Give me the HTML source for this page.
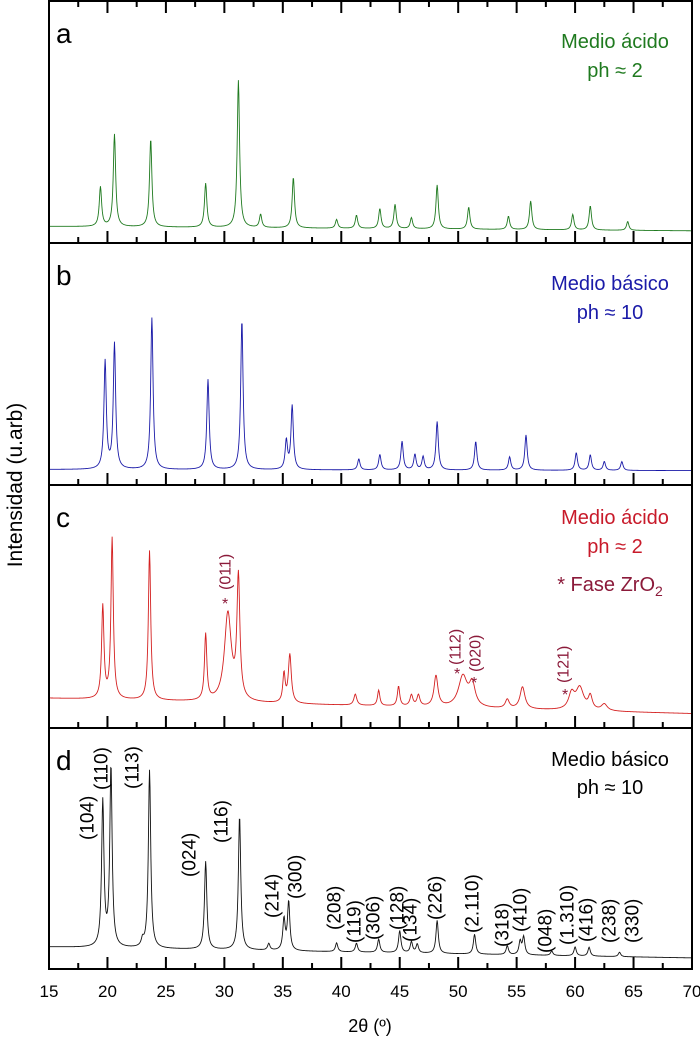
<!DOCTYPE html>
<html><head><meta charset="utf-8"><style>
body{margin:0;background:#fff;}
svg{display:block;font-family:"Liberation Sans",sans-serif;}
</style></head><body>
<svg id="chart" width="700" height="1041" viewBox="0 0 700 1041"></svg>
<script>
// ---- data ----
const panelNames = ['a','b','c','d'];
const baseA = [3, 1];
const posA = [19.4,20.6,23.7,28.4,31.2,33.1,35.9,39.6,41.3,43.3,44.6,46.0,48.2,50.9,54.3,56.2,59.8,61.3,64.5];
const ampA = [18,42,40,20,67,6,23,4,6,9,11,5,20,10,6,13,7,11,4];
const posB = [19.8,20.6,23.8,28.6,31.5,35.3,35.8,41.5,43.3,45.2,46.3,47.0,48.2,51.5,54.4,55.8,60.1,61.3,62.5,64.0];
const ampB = [49,57,69,41,68,13,29,5,7,13,7,6,22,13,6,16,8,7,4,4];
const baseB = [2.5, 2];
const posC = [19.6,20.4,23.6,28.4,30.3,31.2,35.1,35.6,41.2,43.2,44.9,46.0,46.6,48.1,50.4,51.2,54.2,55.5,59.7,60.4,61.3,62.5];
const ampC = [42,73,68,30,40,55,13,22,5,7,9,5,5,14,14,10,4,10,7,10,6,3];
const gamC = [0.12,0.12,0.12,0.12,0.35,0.15,0.12,0.15,0.15,0.12,0.12,0.15,0.15,0.2,0.45,0.3,0.2,0.25,0.3,0.4,0.2,0.3];
const baseC = [9, 2];
const posD = [19.6,20.3,23.0,23.6,28.4,31.3,33.8,35.1,35.5,39.6,41.3,43.2,45.0,46.0,46.5,48.2,51.4,54.2,55.3,55.6,58.0,60.0,61.2,63.8];
const ampD = [66,82,3,81,40,61,3,14,22,4,4,6,10,5,4,15,9,4,6,8,2,4,4,2];
const baseD = [5.5, 0.5];
const labelsD = ['(104)','(110)','(113)','(024)','(116)','(214)','(300)','(208)','(119)','(306)','(128)','(134)','(226)','(2.110)','(318)','(410)','(048)','(1.310)','(416)','(238)','(330)'];
const labelXD = [88,102,133,190,222,273,296,335,355,374,398,411,436,473,503,521,546,568,587,610,633];
const labelYD = [840,790,789,877,843,918,899,930,943,940,930,942,920,933,947,932,953,945,942,943,943];
const xTicks = [15,20,25,30,35,40,45,50,55,60,65,70];

// ---- layout ----
const svg = document.getElementById('chart');
const NS = 'http://www.w3.org/2000/svg';
const L = 49, R = 692, X0 = 15, X1 = 70;
const tops = [1, 243, 485, 728], bots = [243, 485, 728, 969];
const xs = v => L + (v - X0) * (R - L) / (X1 - X0);
function mk(tag, attrs, parent){const e=document.createElementNS(NS,tag);for(const k in attrs)e.setAttribute(k,attrs[k]);(parent||svg).appendChild(e);return e;}

const series = [
 {pos:posA, amp:ampA, gam:null, base:baseA, color:'#1f7a1f'},
 {pos:posB, amp:ampB, gam:null, base:baseB, color:'#1a1aa8'},
 {pos:posC, amp:ampC, gam:gamC, base:baseC, color:'#d42020'},
 {pos:posD, amp:ampD, gam:null, base:baseD, color:'#111'}
];

series.forEach((s,i)=>{
  const ys = v => bots[i] - 10 - v*2.2;
  let d='';
  for(let t=X0; t<=X1+1e-9; t+=0.04){
    let v = s.base[0] + (s.base[1]-s.base[0])*(t-X0)/(X1-X0);
    for(let k=0;k<s.pos.length;k++){
      const g = s.gam ? s.gam[k] : 0.12;
      const dx=(t-s.pos[k])/g;
      v += s.amp[k]/(1+dx*dx);
    }
    d += (d?'L':'M') + xs(t).toFixed(2)+','+ys(v).toFixed(2);
  }
  const p = mk('path',{d:d,fill:'none',stroke:s.color,'stroke-width':0.9});
  
  
  const r = mk('rect',{x:L,y:tops[i],width:R-L,height:bots[i]-tops[i],fill:'none',stroke:'#000','stroke-width':2});
  
  
  for(let k=0;k<=22;k++){
    const len = (k%2===0)?12:6;
    const x = xs(X0 + k*2.5) - 1;
    const tb = mk('rect',{x:x,y:bots[i]-len,width:2,height:len,fill:'#000'});
    
    
    if(i===0){
      const tt = mk('rect',{x:x,y:tops[i],width:2,height:len,fill:'#000'});
      
      
    }
  }
  const lt = mk('text',{x:56,y:tops[i]+42,'font-size':28,fill:'#000'});
  lt.textContent = panelNames[i];
  
  
});

xTicks.forEach(t=>{
  const e = mk('text',{x:xs(t),y:997,'font-size':17,'text-anchor':'middle',fill:'#000'});
  e.textContent = t;
  
  
});

labelsD.forEach((lab,k)=>{
  const e = mk('text',{x:0,y:0,'font-size':19,'dominant-baseline':'central',transform:'translate('+labelXD[k]+','+labelYD[k]+') rotate(-90)',fill:'#000'});
  e.textContent = lab;
  
  
});
</script>
<svg width="700" height="1041" style="position:absolute;left:0;top:0">
 <g font-family="Liberation Sans, sans-serif" font-size="20" text-anchor="middle">
  <text x="615" y="48" fill="#1f7a1f">Medio ácido</text>
  <text x="615" y="77" fill="#1f7a1f">ph ≈ 2</text>
  <text x="610" y="290" fill="#1a1aa8">Medio básico</text>
  <text x="610" y="319" fill="#1a1aa8">ph ≈ 10</text>
  <text x="615" y="524" fill="#c81a2a">Medio ácido</text>
  <text x="615" y="553" fill="#c81a2a">ph ≈ 2</text>
  <text x="610" y="591" fill="#8b1a3a">* Fase ZrO<tspan font-size="14" dy="5">2</tspan></text>
  <text x="610" y="766" fill="#000">Medio básico</text>
  <text x="610" y="794" fill="#000">ph ≈ 10</text>
  <text x="370" y="1032" fill="#000" font-size="18">2θ (º)</text>
  <text x="0" y="0" fill="#000" font-size="21" transform="translate(22,485) rotate(-90)">Intensidad (u.arb)</text>
 </g>
 <g font-family="Liberation Sans, sans-serif" font-size="16" fill="#8b1a3a">
  <text transform="translate(226,590) rotate(-90)" dominant-baseline="central">(011)</text>
  <text transform="translate(456,665) rotate(-90)" dominant-baseline="central">(112)</text>
  <text transform="translate(476,672) rotate(-90)" dominant-baseline="central">(020)</text>
  <text transform="translate(564,683) rotate(-90)" dominant-baseline="central">(121)</text>
  <text x="222" y="609">*</text>
  <text x="454" y="679">*</text>
  <text x="471" y="688">*</text>
  <text x="562" y="700">*</text>
 </g>
</svg>
</body></html>
